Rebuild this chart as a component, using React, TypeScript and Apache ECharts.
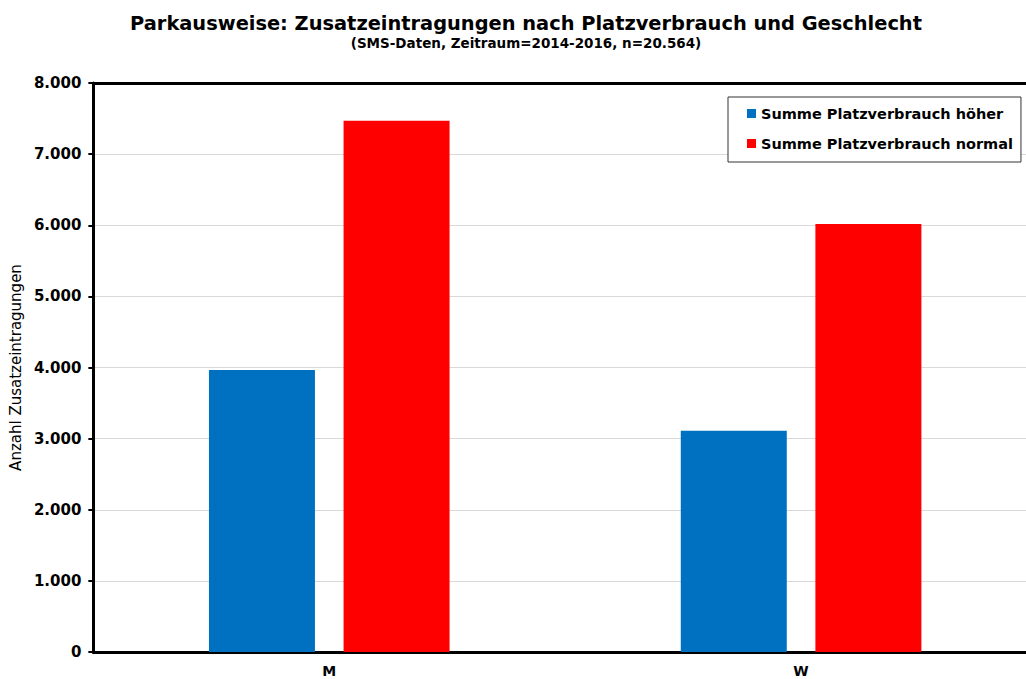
import React, { useEffect, useRef } from "react";
import * as echarts from "echarts";

const categories = ["M", "W"];
const seriesNames = ["Summe Platzverbrauch höher", "Summe Platzverbrauch normal"];
const valuesHoeher = [3965, 3110];
const valuesNormal = [7470, 6019];
const colors = ["#0070C0", "#FF0000"];

const fmt = (v: number) => (v === 0 ? "0" : v.toLocaleString("de-DE"));

export default function App() {
  const ref = useRef<HTMLDivElement>(null);
  useEffect(() => {
    if (!ref.current) return;
    const chart = echarts.init(ref.current, undefined, { renderer: "svg" });
    const font = "DejaVu Sans, Arial, sans-serif";
    chart.setOption({
      animation: false,
      backgroundColor: "#fff",
      textStyle: { fontFamily: font },
      title: {
        text: "Parkausweise: Zusatzeintragungen nach Platzverbrauch und Geschlecht",
        subtext: "(SMS-Daten, Zeitraum=2014-2016, n=20.564)",
        left: 521,
        textAlign: "center",
        top: 9,
        itemGap: 3,
        textStyle: { fontFamily: font, fontSize: 19.4, fontWeight: "bold", color: "#000" },
        subtextStyle: { fontFamily: font, fontSize: 13.5, fontWeight: "bold", color: "#000" },
      },
      legend: {
        orient: "vertical",
        left: 728,
        top: 97,
        padding: [9, 8, 11, 19],
        itemGap: 15,
        itemWidth: 9,
        itemHeight: 9,
        borderColor: "#333",
        borderWidth: 1,
        backgroundColor: "#fff",
        icon: "rect",
        textStyle: { fontFamily: font, fontSize: 14.5, fontWeight: "bold", color: "#000" },
        data: seriesNames,
      },
      grid: {
        left: 87,
        right: 3,
        top: 83,
        bottom: 27,
        show: false,
        containLabel: false,
      },
      xAxis: [
        {
          type: "category",
          data: categories,
          axisLine: { lineStyle: { color: "#000", width: 3 } },
          axisTick: { show: false },
          axisLabel: { fontFamily: font, fontSize: 14, fontWeight: "bold", color: "#000", margin: 12 },
        },
        {
          type: "category",
          data: categories,
          position: "top",
          axisLine: { show: true, lineStyle: { color: "#000", width: 3 } },
          axisTick: { show: false },
          axisLabel: { show: false },
        },
      ],
      yAxis: {
        type: "value",
        min: 0,
        max: 8000,
        interval: 1000,
        name: "Anzahl Zusatzeintragungen",
        nameLocation: "middle",
        nameGap: 68,
        nameTextStyle: { fontFamily: font, fontSize: 15, color: "#000" },
        axisLine: { show: true, lineStyle: { color: "#000", width: 3 } },
        axisTick: { show: true, length: 5, lineStyle: { color: "#000", width: 2 } },
        axisLabel: { fontFamily: font, fontSize: 15, fontWeight: "bold", color: "#000", margin: 12, formatter: fmt },
        splitLine: { lineStyle: { color: "#d9d9d9", width: 1 } },
      },
      series: [
        {
          name: seriesNames[0],
          type: "bar",
          data: valuesHoeher,
          barWidth: 106,
          barGap: "27%",
          itemStyle: { color: colors[0] },
        },
        {
          name: seriesNames[1],
          type: "bar",
          data: valuesNormal,
          barWidth: 106,
          barGap: "27%",
          itemStyle: { color: colors[1] },
        },
      ],
    });
    return () => chart.dispose();
  }, []);
  return (
    <div style={{ position: "fixed", left: 0, top: 0, width: 1026, height: 679, overflow: "hidden" }}>
      <div ref={ref} style={{ width: 1040, height: 679 }} />
    </div>
  );
}
